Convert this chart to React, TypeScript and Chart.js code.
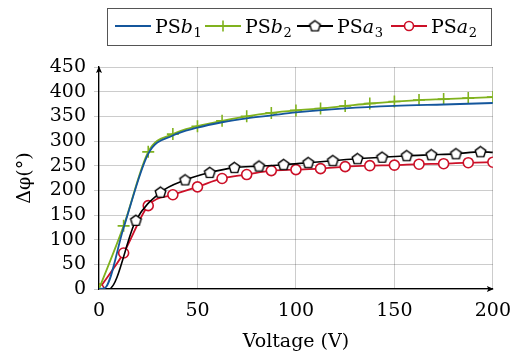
import React, { useEffect, useRef } from "react";
import { Chart, registerables } from "chart.js";

Chart.register(...registerables);

// ---- data ----
const voltageB1 = [0, 3, 12.5, 25, 37.5, 50, 62.5, 75, 87.5, 100, 125, 150, 175, 200];
const psb1 = [0, 2, 124, 274, 311, 327, 338, 346, 352, 358, 366, 371, 374, 377];

const voltageB2 = [0, 12.5, 25, 37.5, 50, 62.5, 75, 87.5, 100, 112.5, 125, 137.5, 150, 162.5, 175, 187.5, 200];
const psb2 = [0, 128, 278, 314, 330, 341, 350, 357, 362, 366, 371, 376, 380, 383, 385, 387, 389];

const voltageA3 = [0, 5, 18.75, 31.25, 43.75, 56.25, 68.75, 81.25, 93.75, 106.25, 118.75, 131.25, 143.75, 156.25, 168.75, 181.25, 193.75, 200];
const psa3 = [0, 0, 139, 196, 221, 236, 246, 249, 252, 256, 260, 264, 267, 270, 272, 274, 278, 277];
const psa3Marked = [false, false, true, true, true, true, true, true, true, true, true, true, true, true, true, true, true, false];

const voltageA2 = [0, 12.5, 25, 37.5, 50, 62.5, 75, 87.5, 100, 112.5, 125, 137.5, 150, 162.5, 175, 187.5, 200];
const psa2 = [0, 73, 169, 191, 207, 224, 232, 240, 242, 244, 248, 250, 251, 253, 254, 256, 257];

const yTicks = [0, 50, 100, 150, 200, 250, 300, 350, 400, 450];
const xTicks = [0, 50, 100, 150, 200];

const BLUE = "rgb(20,86,156)";
const GREEN = "rgb(128,178,30)";
const BLACK = "#000000";
const RED = "rgb(204,16,40)";
const FONT = '"DejaVu Serif", serif';
const FS = 19;

function makePentagon(): HTMLCanvasElement {
  const c = document.createElement("canvas");
  c.width = 15;
  c.height = 15;
  const g = c.getContext("2d")!;
  const r = 5.6;
  const cx = 7.5, cy = 7.8;
  g.beginPath();
  for (let i = 0; i < 5; i++) {
    const a = -Math.PI / 2 + (i * 2 * Math.PI) / 5;
    const px = cx + r * Math.cos(a);
    const py = cy + r * Math.sin(a);
    if (i === 0) g.moveTo(px, py);
    else g.lineTo(px, py);
  }
  g.closePath();
  g.fillStyle = "#fff";
  g.fill();
  g.lineWidth = 1.4;
  g.strokeStyle = "#000";
  g.stroke();
  return c;
}

const legendEntries = [
  { base: "PS", it: "b", sub: "1", color: BLUE, marker: "none" },
  { base: "PS", it: "b", sub: "2", color: GREEN, marker: "cross" },
  { base: "PS", it: "a", sub: "3", color: BLACK, marker: "pentagon" },
  { base: "PS", it: "a", sub: "2", color: RED, marker: "circle" },
];

export default function App() {
  const ref = useRef<HTMLCanvasElement | null>(null);

  useEffect(() => {
    const pent = makePentagon();
    const zip = (xs: number[], ys: number[]) => xs.map((x, i) => ({ x, y: ys[i] }));

    const customPlugin = {
      id: "custom",
      afterDraw(chart: any) {
        const ctx = chart.ctx as CanvasRenderingContext2D;
        const { left, right, top, bottom } = chart.chartArea;
        ctx.save();
        ctx.fillStyle = "#000";
        ctx.beginPath();
        ctx.moveTo(left, top - 1);
        ctx.lineTo(left - 3, top + 6);
        ctx.lineTo(left, top + 4.5);
        ctx.lineTo(left + 3, top + 6);
        ctx.closePath();
        ctx.fill();
        ctx.beginPath();
        ctx.moveTo(right + 1, bottom);
        ctx.lineTo(right - 6, bottom - 3);
        ctx.lineTo(right - 4.5, bottom);
        ctx.lineTo(right - 6, bottom + 3);
        ctx.closePath();
        ctx.fill();

        ctx.strokeStyle = "#555";
        ctx.lineWidth = 1;
        ctx.strokeRect(107.5, 8.5, 384, 37);

        const starts = [115, 205, 297, 391];
        const ly = 26;
        let i = 0;
        for (const e of legendEntries) {
          const x0 = starts[i++];
          const x1 = x0 + 36;
          ctx.strokeStyle = e.color;
          ctx.lineWidth = 1.8;
          ctx.beginPath();
          ctx.moveTo(x0, ly);
          ctx.lineTo(x1, ly);
          ctx.stroke();
          const mx = (x0 + x1) / 2;
          if (e.marker === "cross") {
            ctx.lineWidth = 1.6;
            ctx.beginPath();
            ctx.moveTo(mx, ly - 5.5);
            ctx.lineTo(mx, ly + 5.5);
            ctx.stroke();
          } else if (e.marker === "pentagon") {
            ctx.drawImage(pent, mx - 7.5, ly - 7.5);
          } else if (e.marker === "circle") {
            ctx.beginPath();
            ctx.arc(mx, ly, 4.5, 0, Math.PI * 2);
            ctx.fillStyle = "#fff";
            ctx.fill();
            ctx.lineWidth = 1.6;
            ctx.stroke();
          }
          ctx.fillStyle = "#000";
          ctx.textBaseline = "alphabetic";
          ctx.textAlign = "left";
          let tx = x1 + 4;
          const by = 33;
          ctx.font = `${FS}px ${FONT}`;
          ctx.fillText(e.base, tx, by);
          tx += ctx.measureText(e.base).width;
          ctx.font = `italic ${FS}px ${FONT}`;
          ctx.fillText(e.it, tx, by);
          tx += ctx.measureText(e.it).width + 0.5;
          ctx.font = `13px ${FONT}`;
          ctx.fillText(e.sub, tx, by + 4);
        }
        ctx.restore();
      },
    };

    const chart = new Chart(ref.current!, {
      type: "line",
      data: {
        datasets: [
          {
            label: "PSb1",
            data: zip(voltageB1, psb1),
            borderColor: BLUE,
            borderWidth: 1.8,
            pointRadius: 0,
            cubicInterpolationMode: "monotone",
          },
          {
            label: "PSb2",
            data: zip(voltageB2, psb2),
            borderColor: GREEN,
            backgroundColor: GREEN,
            borderWidth: 1.8,
            pointStyle: "cross",
            pointRadius: 6,
            pointBorderWidth: 1.6,
            cubicInterpolationMode: "monotone",
          },
          {
            label: "PSa3",
            data: zip(voltageA3, psa3),
            borderColor: BLACK,
            borderWidth: 1.6,
            pointStyle: pent as any,
            pointRadius: psa3Marked.map((m) => (m ? 6 : 0)),
            cubicInterpolationMode: "monotone",
          },
          {
            label: "PSa2",
            data: zip(voltageA2, psa2),
            borderColor: RED,
            backgroundColor: "#fff",
            borderWidth: 1.8,
            pointStyle: "circle",
            pointRadius: 5,
            pointBorderWidth: 1.6,
            pointBackgroundColor: "#fff",
            cubicInterpolationMode: "monotone",
          },
        ],
      },
      options: {
        responsive: false,
        animation: false,
        events: [],
        layout: { padding: { left: 0, right: 25, top: 67, bottom: 0 } },
        plugins: { legend: { display: false }, tooltip: { enabled: false } },
        scales: {
          x: {
            type: "linear",
            min: 0,
            max: 200,
            afterFit: (s: any) => {
              s.height = 67;
            },
            afterBuildTicks: (s: any) => {
              s.ticks = xTicks.map((v) => ({ value: v }));
            },
            grid: { color: "rgba(0,0,0,0.2)", lineWidth: 1, drawTicks: false },
            border: { color: "#000", width: 1.2 },
            ticks: { color: "#000", font: { family: FONT, size: FS }, padding: 11, maxRotation: 0, autoSkip: false },
            title: {
              display: true,
              text: "Voltage (V)",
              color: "#000",
              font: { family: FONT, size: FS },
              padding: { top: 0, bottom: 3 },
            },
          },
          y: {
            type: "linear",
            min: 0,
            max: 450,
            afterFit: (s: any) => {
              s.width = 99;
            },
            afterBuildTicks: (s: any) => {
              s.ticks = yTicks.map((v) => ({ value: v }));
            },
            grid: { color: "rgba(0,0,0,0.2)", lineWidth: 1, tickLength: 5 },
            border: { color: "#000", width: 1.2 },
            ticks: { color: "#000", font: { family: FONT, size: FS }, padding: 8, autoSkip: false },
            title: {
              display: true,
              text: "Δφ(°)",
              color: "#000",
              font: { family: FONT, size: FS },
              padding: { top: 14, bottom: 0 },
            },
          },
        },
      },
      plugins: [customPlugin],
    } as any);
    return () => chart.destroy();
  }, []);

  return (
    <div style={{ position: "fixed", left: 0, top: 0, width: 522, height: 356, background: "#fff" }}>
      <canvas ref={ref} width={522} height={356} style={{ width: 522, height: 356 }} />
    </div>
  );
}
